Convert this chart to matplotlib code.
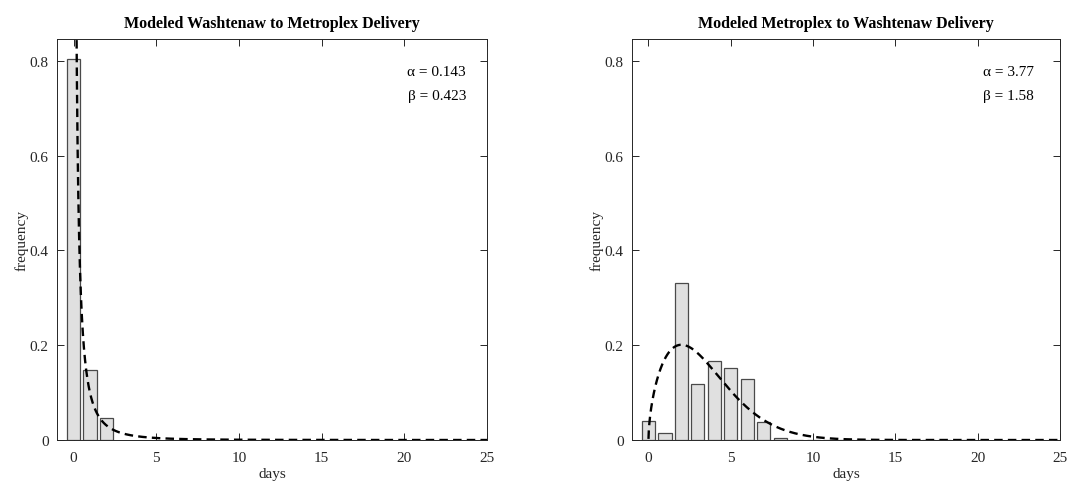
import numpy as np
import matplotlib
matplotlib.use("Agg")
import matplotlib.pyplot as plt

plt.rcParams['font.family'] = ['Liberation Serif', 'DejaVu Serif']

# Data
days_left = [0, 1, 2]
freq_left = [0.803, 0.148, 0.046]
alpha_left, beta_left = 0.143, 0.423

days_right = [0, 1, 2, 3, 4, 5, 6, 7, 8, 9, 10, 11, 12, 13, 16, 17, 18, 19]
freq_right = [0.040, 0.014, 0.332, 0.118, 0.167, 0.152, 0.129, 0.038, 0.005,
              0.001, 0.001, 0.001, 0.001, 0.001, 0.0005, 0.0005, 0.0005, 0.0005]
alpha_right, beta_right = 3.77, 1.58

titles = ["Modeled Washtenaw to Metroplex Delivery",
          "Modeled Metroplex to Washtenaw Delivery"]
xticks = [0, 5, 10, 15, 20, 25]
yticks = [0, 0.2, 0.4, 0.6, 0.8]
yticklabels = ["0", "0.2", "0.4", "0.6", "0.8"]


def weibull_pdf(x, a, b):
    return (b / a) * (x / a) ** (b - 1) * np.exp(-(x / a) ** b)


fig = plt.figure(figsize=(10.88, 4.85), dpi=100)
axl = fig.add_axes([0.0524, 0.0907, 0.3952, 0.8268])
axr = fig.add_axes([0.5809, 0.0907, 0.3934, 0.8268])

axcol = '#262626'
panels = [(axl, days_left, freq_left, alpha_left, beta_left, titles[0], 0.951, "0.143", "0.423"),
          (axr, days_right, freq_right, alpha_right, beta_right, titles[1], 0.939, "3.77", "1.58")]

for ax, d, f, a, b, title, tx, astr, bstr in panels:
    ax.bar(d, f, width=0.8, color='#e0e0e0', edgecolor='#4a4a4a', linewidth=0.9, zorder=2)
    x = np.linspace(0.0005, 25, 4000)
    ax.plot(x, weibull_pdf(x, a, b), color='black', linestyle=(0, (3.6, 2.2)),
            linewidth=1.7, zorder=3)
    ax.set_xlim(-1, 25)
    ax.set_ylim(0, 0.846)
    ax.set_xticks(xticks)
    ax.set_yticks(yticks)
    ax.set_yticklabels(yticklabels)
    ax.tick_params(direction='in', top=True, right=True, length=5, width=0.7,
                   colors=axcol, labelsize=11, pad=6)
    ax.tick_params(axis='x', pad=8)
    for s in ax.spines.values():
        s.set_color(axcol)
        s.set_linewidth(0.7)
    ax.set_title(title, fontsize=11.5, fontweight='bold', color='black', pad=9)
    ax.set_xlabel('days', fontsize=11, color=axcol, labelpad=2)
    ax.set_ylabel('frequency', fontsize=11, color=axcol, labelpad=1)
    ax.text(tx, 0.918, "\u03b1 = " + astr, transform=ax.transAxes, ha='right', va='center',
            fontsize=11, color='black')
    ax.text(tx, 0.858, "\u03b2 = " + bstr, transform=ax.transAxes, ha='right', va='center',
            fontsize=11, color='black')

fig.savefig('out.png', dpi=100)
